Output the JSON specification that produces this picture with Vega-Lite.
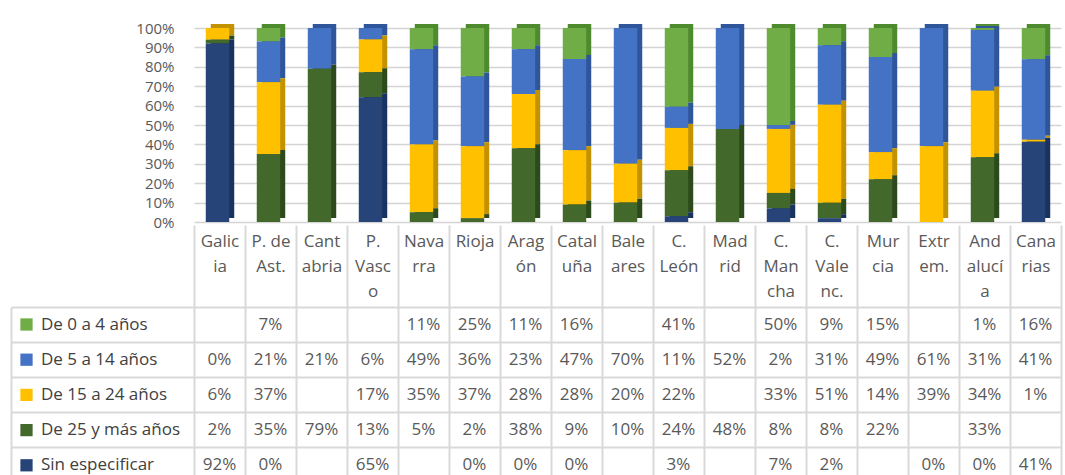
{
  "$schema": "https://vega.github.io/schema/vega-lite/v6.json",
  "padding": {"left": 10, "top": 21, "right": 5, "bottom": 0},
  "bounds": "flush",
  "spacing": 85,
  "config": {"view": {"stroke": null}, "font": "Open Sans"},
  "resolve": {"scale": {"color": "independent"}},
  "datasets": {
    "d": [
      {"region": "Galicia", "serie": "De 5 a 14 años", "value": 0},
      {"region": "Galicia", "serie": "De 15 a 24 años", "value": 0.06},
      {"region": "Galicia", "serie": "De 25 y más años", "value": 0.02},
      {"region": "Galicia", "serie": "Sin especificar", "value": 0.92},
      {"region": "P. de Ast.", "serie": "De 0 a 4 años", "value": 0.07},
      {"region": "P. de Ast.", "serie": "De 5 a 14 años", "value": 0.21},
      {"region": "P. de Ast.", "serie": "De 15 a 24 años", "value": 0.37},
      {"region": "P. de Ast.", "serie": "De 25 y más años", "value": 0.35},
      {"region": "P. de Ast.", "serie": "Sin especificar", "value": 0},
      {"region": "Cantabria", "serie": "De 5 a 14 años", "value": 0.21},
      {"region": "Cantabria", "serie": "De 25 y más años", "value": 0.79},
      {"region": "P. Vasco", "serie": "De 5 a 14 años", "value": 0.06},
      {"region": "P. Vasco", "serie": "De 15 a 24 años", "value": 0.17},
      {"region": "P. Vasco", "serie": "De 25 y más años", "value": 0.13},
      {"region": "P. Vasco", "serie": "Sin especificar", "value": 0.65},
      {"region": "Navarra", "serie": "De 0 a 4 años", "value": 0.11},
      {"region": "Navarra", "serie": "De 5 a 14 años", "value": 0.49},
      {"region": "Navarra", "serie": "De 15 a 24 años", "value": 0.35},
      {"region": "Navarra", "serie": "De 25 y más años", "value": 0.05},
      {"region": "Rioja", "serie": "De 0 a 4 años", "value": 0.25},
      {"region": "Rioja", "serie": "De 5 a 14 años", "value": 0.36},
      {"region": "Rioja", "serie": "De 15 a 24 años", "value": 0.37},
      {"region": "Rioja", "serie": "De 25 y más años", "value": 0.02},
      {"region": "Rioja", "serie": "Sin especificar", "value": 0},
      {"region": "Aragón", "serie": "De 0 a 4 años", "value": 0.11},
      {"region": "Aragón", "serie": "De 5 a 14 años", "value": 0.23},
      {"region": "Aragón", "serie": "De 15 a 24 años", "value": 0.28},
      {"region": "Aragón", "serie": "De 25 y más años", "value": 0.38},
      {"region": "Aragón", "serie": "Sin especificar", "value": 0},
      {"region": "Cataluña", "serie": "De 0 a 4 años", "value": 0.16},
      {"region": "Cataluña", "serie": "De 5 a 14 años", "value": 0.47},
      {"region": "Cataluña", "serie": "De 15 a 24 años", "value": 0.28},
      {"region": "Cataluña", "serie": "De 25 y más años", "value": 0.09},
      {"region": "Cataluña", "serie": "Sin especificar", "value": 0},
      {"region": "Baleares", "serie": "De 5 a 14 años", "value": 0.70},
      {"region": "Baleares", "serie": "De 15 a 24 años", "value": 0.20},
      {"region": "Baleares", "serie": "De 25 y más años", "value": 0.10},
      {"region": "C. León", "serie": "De 0 a 4 años", "value": 0.41},
      {"region": "C. León", "serie": "De 5 a 14 años", "value": 0.11},
      {"region": "C. León", "serie": "De 15 a 24 años", "value": 0.22},
      {"region": "C. León", "serie": "De 25 y más años", "value": 0.24},
      {"region": "C. León", "serie": "Sin especificar", "value": 0.03},
      {"region": "Madrid", "serie": "De 5 a 14 años", "value": 0.52},
      {"region": "Madrid", "serie": "De 25 y más años", "value": 0.48},
      {"region": "C. Mancha", "serie": "De 0 a 4 años", "value": 0.50},
      {"region": "C. Mancha", "serie": "De 5 a 14 años", "value": 0.02},
      {"region": "C. Mancha", "serie": "De 15 a 24 años", "value": 0.33},
      {"region": "C. Mancha", "serie": "De 25 y más años", "value": 0.08},
      {"region": "C. Mancha", "serie": "Sin especificar", "value": 0.07},
      {"region": "C. Valenc.", "serie": "De 0 a 4 años", "value": 0.09},
      {"region": "C. Valenc.", "serie": "De 5 a 14 años", "value": 0.31},
      {"region": "C. Valenc.", "serie": "De 15 a 24 años", "value": 0.51},
      {"region": "C. Valenc.", "serie": "De 25 y más años", "value": 0.08},
      {"region": "C. Valenc.", "serie": "Sin especificar", "value": 0.02},
      {"region": "Murcia", "serie": "De 0 a 4 años", "value": 0.15},
      {"region": "Murcia", "serie": "De 5 a 14 años", "value": 0.49},
      {"region": "Murcia", "serie": "De 15 a 24 años", "value": 0.14},
      {"region": "Murcia", "serie": "De 25 y más años", "value": 0.22},
      {"region": "Extrem.", "serie": "De 5 a 14 años", "value": 0.61},
      {"region": "Extrem.", "serie": "De 15 a 24 años", "value": 0.39},
      {"region": "Extrem.", "serie": "Sin especificar", "value": 0},
      {"region": "Andalucía", "serie": "De 0 a 4 años", "value": 0.01},
      {"region": "Andalucía", "serie": "De 5 a 14 años", "value": 0.31},
      {"region": "Andalucía", "serie": "De 15 a 24 años", "value": 0.34},
      {"region": "Andalucía", "serie": "De 25 y más años", "value": 0.33},
      {"region": "Andalucía", "serie": "Sin especificar", "value": 0},
      {"region": "Canarias", "serie": "De 0 a 4 años", "value": 0.16},
      {"region": "Canarias", "serie": "De 5 a 14 años", "value": 0.41},
      {"region": "Canarias", "serie": "De 15 a 24 años", "value": 0.01},
      {"region": "Canarias", "serie": "Sin especificar", "value": 0.41}
    ]
  },
  "vconcat": [
    {
      "width": 867,
      "height": 194,
      "data": {"name": "d"},
      "transform": [
        {"calculate": "indexof(['De 0 a 4 años', 'De 5 a 14 años', 'De 15 a 24 años', 'De 25 y más años', 'Sin especificar'], datum.serie)", "as": "orden"}
      ],
      "resolve": {"scale": {"color": "independent"}},
      "encoding": {
        "x": {
          "field": "region", "type": "nominal",
          "sort": ["Galicia", "P. de Ast.", "Cantabria", "P. Vasco", "Navarra", "Rioja", "Aragón", "Cataluña", "Baleares", "C. León", "Madrid", "C. Mancha", "C. Valenc.", "Murcia", "Extrem.", "Andalucía", "Canarias"],
          "scale": {"paddingInner": 0, "paddingOuter": 0},
          "axis": null
        },
        "y": {
          "field": "value", "type": "quantitative", "stack": "normalize",
          "axis": {
            "title": null, "values": [0, 0.1, 0.2, 0.3, 0.4, 0.5, 0.6, 0.7, 0.8, 0.9, 1],
            "format": ".0%", "labelFontSize": 15, "labelColor": "#595959",
            "labelPadding": 20, "ticks": false, "domain": false,
            "grid": true, "gridColor": "#d4d4d4", "gridWidth": 1.5
          }
        },
        "order": {"field": "orden", "type": "quantitative", "sort": "descending"}
      },
      "layer": [
        {
          "mark": {"type": "bar", "width": {"band": 0.46}, "xOffset": 3, "yOffset": -4},
          "encoding": {
            "color": {
              "field": "serie", "type": "nominal",
              "sort": ["De 0 a 4 años", "De 5 a 14 años", "De 15 a 24 años", "De 25 y más años", "Sin especificar"],
              "scale": {"range": ["#4e8a2e", "#2f559a", "#c29200", "#2c4a1b", "#1a3260"]},
              "legend": null
            }
          }
        },
        {
          "mark": {"type": "bar", "width": {"band": 0.46}, "xOffset": -2},
          "encoding": {
            "color": {
              "field": "serie", "type": "nominal",
              "sort": ["De 0 a 4 años", "De 5 a 14 años", "De 15 a 24 años", "De 25 y más años", "Sin especificar"],
              "scale": {"range": ["#70AD47", "#4472C4", "#FFC000", "#43682B", "#264478"]},
              "legend": {
                "title": null, "orient": "none", "legendX": -176, "legendY": 288,
                "direction": "vertical", "symbolType": "square", "symbolSize": 150,
                "symbolStrokeWidth": 0, "symbolOpacity": 1, "labelFontSize": 17,
                "labelColor": "#404040", "rowPadding": 17.2, "labelOffset": 6, "labelLimit": 300
              }
            }
          }
        }
      ]
    },
    {
      "width": 867,
      "height": 175,
      "data": {"name": "d"},
      "mark": {"type": "text", "fontSize": 17, "color": "#595959"},
      "encoding": {
        "x": {
          "field": "region", "type": "nominal",
          "sort": ["Galicia", "P. de Ast.", "Cantabria", "P. Vasco", "Navarra", "Rioja", "Aragón", "Cataluña", "Baleares", "C. León", "Madrid", "C. Mancha", "C. Valenc.", "Murcia", "Extrem.", "Andalucía", "Canarias"],
          "scale": {"paddingInner": 0, "paddingOuter": 0},
          "axis": {
            "orient": "top", "title": null, "labelAngle": 0,
            "labelExpr": "{'Galicia': ['Galic', 'ia'], 'P. de Ast.': ['P. de', 'Ast.'], 'Cantabria': ['Cant', 'abria'], 'P. Vasco': ['P.', 'Vasc', 'o'], 'Navarra': ['Nava', 'rra'], 'Rioja': ['Rioja'], 'Aragón': ['Arag', 'ón'], 'Cataluña': ['Catal', 'uña'], 'Baleares': ['Bale', 'ares'], 'C. León': ['C.', 'León'], 'Madrid': ['Mad', 'rid'], 'C. Mancha': ['C.', 'Man', 'cha'], 'C. Valenc.': ['C.', 'Vale', 'nc.'], 'Murcia': ['Mur', 'cia'], 'Extrem.': ['Extr', 'em.'], 'Andalucía': ['And', 'alucí', 'a'], 'Canarias': ['Cana', 'rias']}[datum.label]",
            "labelBaseline": "top", "labelPadding": -8, "labelLineHeight": 25,
            "labelFontSize": 17, "labelColor": "#595959",
            "tickBand": "extent", "tickSize": 82, "tickColor": "#d9d9d9", "tickWidth": 2,
            "grid": true, "gridColor": "#d9d9d9", "gridWidth": 2, "domain": false
          }
        },
        "y": {
          "field": "serie", "type": "nominal",
          "sort": ["De 0 a 4 años", "De 5 a 14 años", "De 15 a 24 años", "De 25 y más años", "Sin especificar"],
          "scale": {"paddingInner": 0, "paddingOuter": 0},
          "axis": {
            "title": null, "labels": false, "tickBand": "extent", "tickSize": -183, "offset": 183,
            "tickColor": "#d9d9d9", "tickWidth": 2,
            "domain": true, "domainColor": "#d9d9d9", "domainWidth": 2,
            "grid": true, "gridColor": "#d9d9d9", "gridWidth": 2
          }
        },
        "text": {"field": "value", "type": "quantitative", "format": ".0%"}
      }
    }
  ]
}
